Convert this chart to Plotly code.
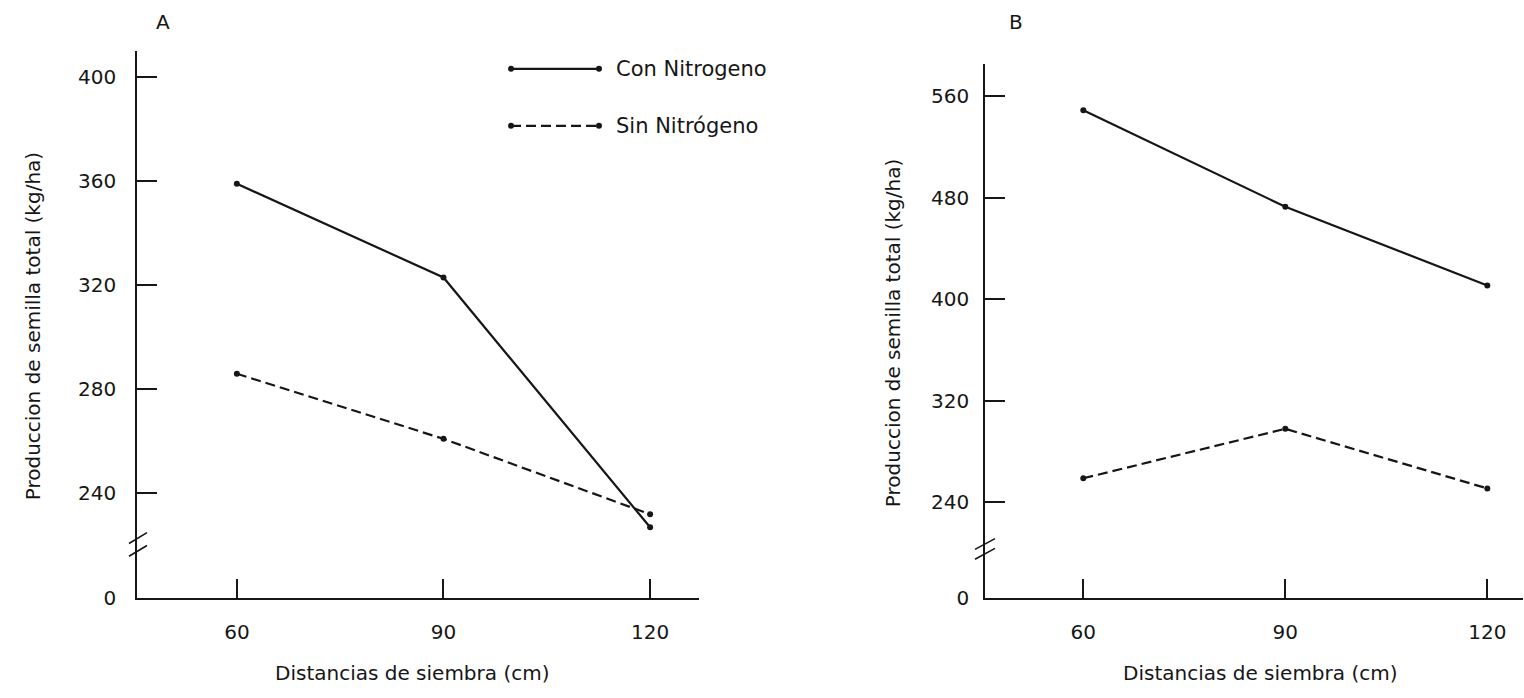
import plotly.graph_objects as go

W, H = 1524, 698

# Planting distance (cm)
distancias = [60, 90, 120]

# Panel A: total seed yield (kg/ha)
a_con_nitrogeno = [359, 323, 227]
a_sin_nitrogeno = [286, 261, 232]

# Panel B: total seed yield (kg/ha)
b_con_nitrogeno = [549, 473, 411]
b_sin_nitrogeno = [259, 298, 251]

# Tick labels (the lowest tick sits below an axis break and reads "0")
a_tickvals = [200, 240, 280, 320, 360, 400]
a_ticktext = ["0", "240", "280", "320", "360", "400"]
b_tickvals = [165, 240, 320, 400, 480, 560]
b_ticktext = ["0", "240", "320", "400", "480", "560"]

FONT = "DejaVu Sans"
INK = "#161616"
DASH = "10px,5px"


def px(x):
    return x / W


def py(y):
    return 1 - y / H


fig = go.Figure()


def add_series(xa, ya, values, dash, name):
    fig.add_trace(go.Scatter(
        x=distancias, y=values, xaxis=xa, yaxis=ya, name=name,
        mode="lines+markers",
        line=dict(color=INK, width=2.2, dash=dash),
        marker=dict(color=INK, size=6),
        showlegend=False,
    ))


add_series("x", "y", a_con_nitrogeno, "solid", "Con Nitrogeno")
add_series("x", "y", a_sin_nitrogeno, DASH, "Sin Nitrógeno")
add_series("x2", "y2", b_con_nitrogeno, "solid", "Con Nitrogeno")
add_series("x2", "y2", b_sin_nitrogeno, DASH, "Sin Nitrógeno")

axis_common = dict(
    showline=True, linecolor=INK, linewidth=1.6,
    showgrid=False, zeroline=False,
    ticks="inside", tickcolor=INK, tickwidth=1.6,
    tickfont=dict(family=FONT, size=20, color=INK),
)

fig.update_layout(
    width=W, height=H,
    margin=dict(l=0, r=0, t=0, b=0),
    paper_bgcolor="white", plot_bgcolor="white",
    showlegend=False,
    xaxis=dict(domain=[px(137), px(699)], range=[45.5, 127.1],
               tickvals=distancias, ticklen=19, anchor="y",
               ticklabelstandoff=16, **axis_common),
    yaxis=dict(domain=[py(608), py(52)], range=[200, 410],
               tickvals=a_tickvals, ticktext=a_ticktext, ticklen=20,
               anchor="x", ticklabelstandoff=15, **axis_common),
    xaxis2=dict(domain=[px(985), px(1523)], range=[45.4, 125.3],
                tickvals=distancias, ticklen=19, anchor="y2",
                ticklabelstandoff=16, **axis_common),
    yaxis2=dict(domain=[py(608), py(65)], range=[165, 585.6],
                tickvals=b_tickvals, ticktext=b_ticktext, ticklen=20,
                anchor="x2", ticklabelstandoff=10, **axis_common),
)

shapes = []
# Axis-break slashes on each y axis
for x0, x1, ys in [(129, 147, [(553, 542), (566, 555)]),
                   (975, 995, [(559, 548), (569, 558)])]:
    for y0, y1 in ys:
        shapes.append(dict(type="line", xref="paper", yref="paper",
                           x0=px(x0), x1=px(x1), y0=py(y0), y1=py(y1),
                           line=dict(color=INK, width=1.6)))

# Legend keys
for y, dash in [(70, "solid"), (128, DASH)]:
    shapes.append(dict(type="line", xref="paper", yref="paper",
                       x0=px(511), x1=px(599), y0=py(y), y1=py(y),
                       line=dict(color=INK, width=2.2, dash=dash)))
    for cx in (511, 599):
        shapes.append(dict(type="circle", xref="paper", yref="paper",
                           x0=px(cx - 3), x1=px(cx + 3),
                           y0=py(y + 3), y1=py(y - 3),
                           fillcolor=INK, line=dict(color=INK, width=0)))
fig.update_layout(shapes=shapes)

annotations = []


def label(text, x, y, size=20, angle=0, xanchor="center"):
    annotations.append(dict(text=text, x=px(x), y=py(y), xref="paper",
                            yref="paper", showarrow=False, textangle=angle,
                            xanchor=xanchor, yanchor="middle",
                            font=dict(family=FONT, size=size, color=INK)))


label("A", 163, 22)
label("B", 1016, 22)
label("Con Nitrogeno", 614, 70, size=21, xanchor="left")
label("Sin Nitrógeno", 614, 128, size=21, xanchor="left")
label("Produccion de semilla total (kg/ha)", 33, 332, angle=-90)
label("Produccion de semilla total (kg/ha)", 893, 339, angle=-90)
label("Distancias de siembra (cm)", 412, 685)
label("Distancias de siembra (cm)", 1260, 685)
fig.update_layout(annotations=annotations)

fig.write_html("out.html")
